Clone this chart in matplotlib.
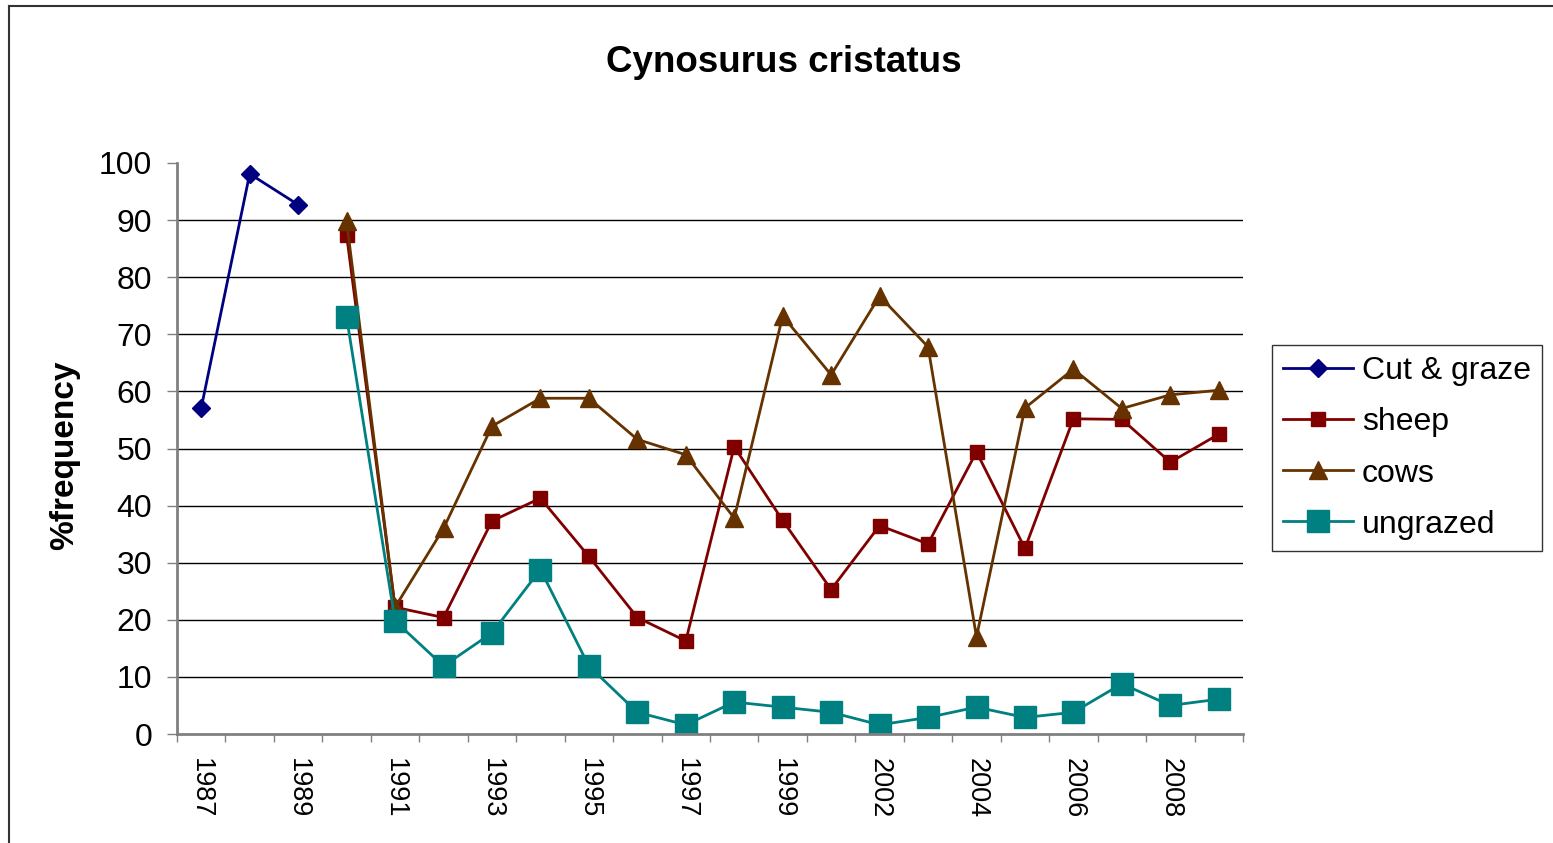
import matplotlib
matplotlib.use("Agg")
import matplotlib.pyplot as plt
from matplotlib.lines import Line2D
import numpy as np

plt.rcParams['font.family'] = ['Liberation Sans', 'DejaVu Sans']

years = ["1987", "1988", "1989", "1990", "1991", "1992", "1993", "1994", "1995", "1996",
         "1997", "1998", "1999", "2001", "2002", "2003", "2004", "2005", "2006", "2007",
         "2008", "2009"]
cut_graze = [57.1, 98.1, 92.7]
sheep = [87.4, 22.2, 20.4, 37.3, 41.3, 31.1, 20.4, 16.3, 50.3, 37.4, 25.3, 36.5, 33.3,
         49.4, 32.5, 55.2, 55.1, 47.6, 52.5]
cows = [89.8, 22.2, 36.0, 53.9, 58.8, 58.8, 51.6, 48.9, 37.8, 73.2, 62.9, 76.7, 67.8,
        17.0, 57.1, 63.9, 57.0, 59.4, 60.2]
ungrazed = [73.0, 19.8, 11.9, 17.7, 28.8, 11.9, 3.8, 1.6, 5.6, 4.7, 3.8, 1.6, 2.9, 4.7,
            2.9, 3.8, 8.8, 5.0, 6.1]

W, H = 1553, 843
fig = plt.figure(figsize=(W / 100, H / 100), dpi=100)
ax = fig.add_axes([177 / W, 1 - 734 / H, 1066 / W, 571 / H])

x = np.arange(len(years)) + 0.5
ax.plot(x[:3], cut_graze, color="#000080", lw=2, marker="D", ms=9, label="Cut & graze")
ax.plot(x[3:], sheep, color="#800000", lw=2, marker="s", ms=10, label="sheep")
ax.plot(x[3:], cows, color="#663300", lw=2, marker="^", ms=13, label="cows")
ax.plot(x[3:], ungrazed, color="#008080", lw=2, marker="s", ms=16, label="ungrazed")

ax.set_xlim(0, len(years))
ax.set_ylim(0, 100)
ax.set_yticks(range(0, 101, 10))
ax.set_xticks(np.arange(len(years) + 1), minor=False)
ax.set_xticklabels([])
ax.set_xticks(x[::2], minor=True)
ax.set_xticklabels(years[::2], minor=True, rotation=270, fontsize=19.5)
ax.tick_params(axis="x", which="minor", length=0, pad=17)
ax.tick_params(axis="x", which="major", direction="out", length=6, width=1, color="#808080")
ax.tick_params(axis="y", direction="out", length=7, width=1, color="#808080", labelsize=23, pad=11)

for v in range(10, 100, 10):
    ax.axhline(v, color="black", lw=1, zorder=0)
for s in ["top", "right"]:
    ax.spines[s].set_visible(False)
for s in ["left", "bottom"]:
    ax.spines[s].set_color("#808080")
    ax.spines[s].set_linewidth(2)

ax.set_ylabel("%frequency", fontsize=24, fontweight="bold")
ax.yaxis.set_label_coords(-0.091, 0.489)
fig.text(784 / W, 1 - 63 / H, "Cynosurus cristatus", ha="center", va="center",
         fontsize=26.5, fontweight="bold")

leg = ax.legend(loc="center left", bbox_to_anchor=(1272 / W, 1 - 448 / H),
                bbox_transform=fig.transFigure, fontsize=23, frameon=True, fancybox=False,
                edgecolor="black", handlelength=2.2, labelspacing=0.66, borderpad=0.35,
                handletextpad=0.26, borderaxespad=0)
leg.get_frame().set_linewidth(1)

# outer chart border (left and top edges)
fig.add_artist(Line2D([9 / W, 9 / W], [0, 1 - 6 / H], color="#333333", lw=1.5,
                      transform=fig.transFigure))
fig.add_artist(Line2D([9 / W, 1], [1 - 6 / H, 1 - 6 / H], color="#333333", lw=1.5,
                      transform=fig.transFigure))

fig.savefig("out.png", dpi=100)
